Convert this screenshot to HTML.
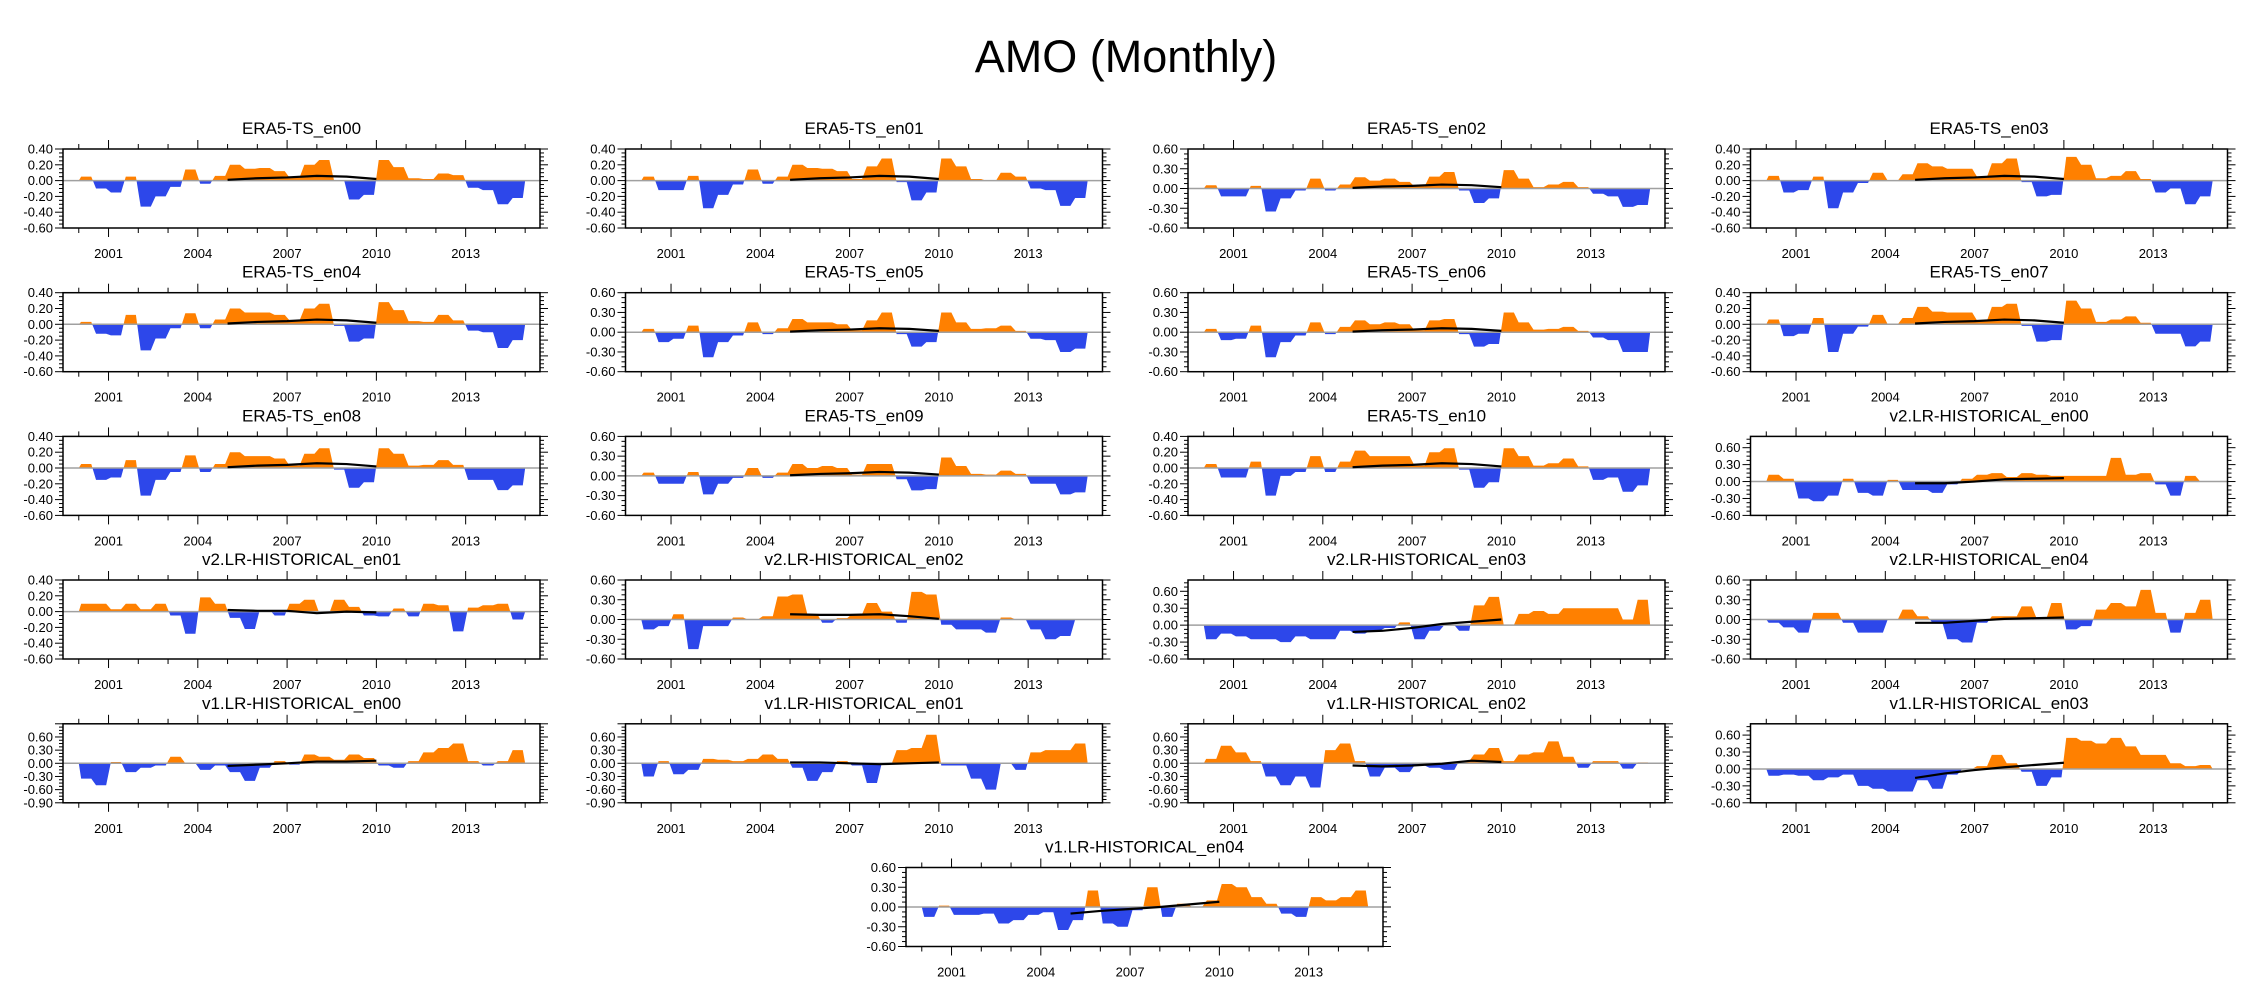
<!DOCTYPE html>
<html><head><meta charset="utf-8">
<style>
html,body{margin:0;padding:0;background:#fff;}
svg{display:block;font-family:"Liberation Sans",Arial,sans-serif;}
</style></head>
<body>
<svg id="chart" width="2253" height="1004" viewBox="0 0 2253 1004" xmlns="http://www.w3.org/2000/svg">
<text x="1126" y="72" font-size="45" text-anchor="middle">AMO (Monthly)</text>
</svg>
<script>
// half-year anomaly values, 2000.0 .. 2015.0 (30 per panel)
const era00 = [0.05,-0.1,-0.15,0.05,-0.33,-0.2,-0.08,0.14,-0.04,0.06,0.2,0.15,0.16,0.12,0.04,0.2,0.26,0.0,-0.24,-0.18,0.26,0.17,0.03,0.02,0.09,0.07,-0.09,-0.12,-0.3,-0.22];
const era01 = [0.05,-0.12,-0.12,0.06,-0.35,-0.18,-0.05,0.14,-0.04,0.05,0.2,0.16,0.15,0.12,0.02,0.18,0.28,-0.02,-0.25,-0.15,0.28,0.18,0.02,0.0,0.1,0.05,-0.1,-0.12,-0.32,-0.22];
const era02 = [0.05,-0.12,-0.12,0.04,-0.35,-0.15,-0.03,0.15,-0.03,0.06,0.17,0.12,0.15,0.1,0.03,0.18,0.25,-0.03,-0.22,-0.15,0.28,0.15,0.02,0.06,0.1,0.02,-0.08,-0.12,-0.28,-0.25];
const era03 = [0.06,-0.15,-0.12,0.05,-0.35,-0.15,-0.03,0.1,0.0,0.08,0.22,0.18,0.15,0.15,0.05,0.22,0.28,-0.02,-0.2,-0.18,0.3,0.2,0.03,0.06,0.12,0.02,-0.15,-0.1,-0.3,-0.2];
const era04 = [0.03,-0.12,-0.14,0.12,-0.33,-0.18,-0.05,0.14,-0.05,0.06,0.2,0.15,0.15,0.12,0.05,0.2,0.26,-0.02,-0.22,-0.18,0.28,0.18,0.04,0.03,0.12,0.05,-0.08,-0.1,-0.3,-0.2];
const era05 = [0.05,-0.15,-0.1,0.1,-0.38,-0.15,-0.05,0.15,-0.03,0.06,0.2,0.15,0.15,0.12,0.03,0.18,0.3,-0.03,-0.22,-0.15,0.3,0.15,0.05,0.06,0.1,0.02,-0.1,-0.12,-0.3,-0.25];
const era06 = [0.05,-0.12,-0.1,0.1,-0.38,-0.15,-0.05,0.15,-0.03,0.08,0.18,0.12,0.15,0.12,0.03,0.18,0.2,-0.03,-0.22,-0.18,0.3,0.15,0.04,0.05,0.08,0.02,-0.08,-0.12,-0.3,-0.3];
const era07 = [0.06,-0.15,-0.12,0.08,-0.35,-0.12,-0.03,0.12,0.0,0.08,0.22,0.16,0.15,0.15,0.05,0.22,0.26,-0.02,-0.22,-0.2,0.3,0.2,0.03,0.06,0.1,0.02,-0.12,-0.12,-0.28,-0.22];
const era08 = [0.05,-0.15,-0.12,0.1,-0.35,-0.15,-0.05,0.16,-0.05,0.05,0.2,0.15,0.15,0.12,0.03,0.18,0.25,-0.02,-0.25,-0.18,0.25,0.18,0.03,0.04,0.1,0.04,-0.15,-0.15,-0.28,-0.22];
const era09 = [0.05,-0.12,-0.12,0.06,-0.28,-0.12,-0.03,0.12,-0.03,0.05,0.18,0.12,0.15,0.12,0.02,0.18,0.18,-0.05,-0.22,-0.2,0.28,0.15,0.03,0.02,0.08,0.03,-0.12,-0.12,-0.28,-0.25];
const era10 = [0.05,-0.12,-0.12,0.08,-0.35,-0.1,-0.05,0.15,-0.05,0.08,0.22,0.15,0.15,0.15,0.03,0.2,0.25,-0.02,-0.25,-0.18,0.25,0.15,0.03,0.06,0.12,0.02,-0.15,-0.12,-0.3,-0.22];
const v2en00 = [0.12,0.05,-0.3,-0.35,-0.25,0.05,-0.2,-0.25,0.03,-0.15,-0.15,-0.2,-0.05,0.05,0.12,0.15,0.08,0.15,0.12,0.1,0.1,0.1,0.1,0.42,0.12,0.15,-0.05,-0.25,0.1,0.0];
const v2en01 = [0.1,0.1,0.03,0.1,0.03,0.1,-0.05,-0.28,0.18,0.1,-0.08,-0.22,0.02,-0.05,0.1,0.15,-0.02,0.15,0.06,-0.05,-0.06,0.04,-0.06,0.1,0.08,-0.25,0.05,0.08,0.1,-0.1];
const v2en02 = [-0.15,-0.1,0.08,-0.45,-0.1,-0.1,0.03,0.0,0.05,0.35,0.38,0.08,-0.05,0.02,0.08,0.25,0.12,-0.05,0.42,0.38,-0.08,-0.15,-0.15,-0.2,0.03,0.0,-0.15,-0.3,-0.25,0.0];
const v2en03 = [-0.25,-0.15,-0.2,-0.25,-0.25,-0.3,-0.2,-0.25,-0.25,-0.1,-0.15,-0.1,-0.05,0.05,-0.25,-0.1,0.0,-0.1,0.35,0.5,0.0,0.2,0.25,0.2,0.3,0.3,0.3,0.3,0.1,0.45];
const v2en04 = [-0.05,-0.12,-0.2,0.1,0.1,-0.05,-0.2,-0.2,0.0,0.15,0.05,-0.05,-0.3,-0.35,-0.05,0.05,0.05,0.2,0.02,0.25,-0.15,-0.1,0.15,0.25,0.2,0.45,0.1,-0.2,0.1,0.3];
const v1en00 = [-0.35,-0.5,0.03,-0.2,-0.1,-0.05,0.15,0.0,-0.15,-0.05,-0.2,-0.4,-0.1,0.05,-0.03,0.2,0.15,0.08,0.2,0.12,-0.05,-0.1,0.05,0.25,0.35,0.45,0.05,-0.05,0.05,0.3];
const v1en01 = [-0.3,0.05,-0.25,-0.15,0.1,0.08,0.05,0.1,0.2,0.1,-0.1,-0.4,-0.2,0.05,-0.05,-0.45,0.0,0.3,0.35,0.65,-0.05,-0.05,-0.35,-0.6,0.0,-0.15,0.25,0.3,0.3,0.45];
const v1en02 = [0.1,0.4,0.25,0.05,-0.3,-0.5,-0.3,-0.55,0.3,0.45,0.05,-0.3,-0.1,-0.2,-0.05,-0.1,-0.15,0.05,0.2,0.35,0.05,0.2,0.25,0.5,0.15,-0.1,0.05,0.05,-0.12,0.02];
const v1en03 = [-0.12,-0.1,-0.12,-0.2,-0.15,-0.1,-0.3,-0.35,-0.4,-0.4,-0.2,-0.35,-0.1,0.0,0.05,0.25,0.1,-0.05,-0.3,-0.15,0.55,0.5,0.45,0.55,0.4,0.25,0.25,0.1,0.05,0.07];
const v1en04 = [-0.15,0.02,-0.12,-0.12,-0.1,-0.25,-0.2,-0.12,-0.08,-0.35,-0.2,0.25,-0.25,-0.3,-0.05,0.3,-0.15,0.05,0.0,0.1,0.35,0.3,0.15,0.05,-0.1,-0.15,0.15,0.1,0.15,0.25];

// trend values at 2005..2010
const trendYears = [2005,2006,2007,2008,2009,2010];
const trendEra = [0.01,0.03,0.04,0.06,0.05,0.02];
const trendV2en00 = [-0.03,-0.03,0.0,0.04,0.05,0.06];
const trendV2en01 = [0.02,0.01,0.01,-0.02,0.0,-0.01];
const trendV2en02 = [0.08,0.07,0.07,0.08,0.05,0.01];
const trendV2en03 = [-0.12,-0.1,-0.05,0.02,0.06,0.1];
const trendV2en04 = [-0.05,-0.05,-0.02,0.01,0.02,0.03];
const trendV1en00 = [-0.06,-0.03,0.0,0.04,0.04,0.06];
const trendV1en01 = [0.02,0.02,0.0,-0.02,0.0,0.02];
const trendV1en02 = [-0.05,-0.07,-0.05,-0.01,0.06,0.03];
const trendV1en03 = [-0.16,-0.08,-0.02,0.03,0.07,0.11];
const trendV1en04 = [-0.1,-0.06,-0.03,0.0,0.04,0.08];

const yearTicks = [2001,2004,2007,2010,2013];
const titles = ["ERA5-TS_en00","ERA5-TS_en01","ERA5-TS_en02","ERA5-TS_en03","ERA5-TS_en04","ERA5-TS_en05","ERA5-TS_en06","ERA5-TS_en07","ERA5-TS_en08","ERA5-TS_en09","ERA5-TS_en10","v2.LR-HISTORICAL_en00","v2.LR-HISTORICAL_en01","v2.LR-HISTORICAL_en02","v2.LR-HISTORICAL_en03","v2.LR-HISTORICAL_en04","v1.LR-HISTORICAL_en00","v1.LR-HISTORICAL_en01","v1.LR-HISTORICAL_en02","v1.LR-HISTORICAL_en03","v1.LR-HISTORICAL_en04"];
const seriesList = [era00,era01,era02,era03,era04,era05,era06,era07,era08,era09,era10,v2en00,v2en01,v2en02,v2en03,v2en04,v1en00,v1en01,v1en02,v1en03,v1en04];
const trendList = [trendEra,trendEra,trendEra,trendEra,trendEra,trendEra,trendEra,trendEra,trendEra,trendEra,trendEra,trendV2en00,trendV2en01,trendV2en02,trendV2en03,trendV2en04,trendV1en00,trendV1en01,trendV1en02,trendV1en03,trendV1en04];
const axisType = ["A","A","B","A","A","B","B","A","A","B","A","C","A","B","C","B","D","D","D","C","B"];
const axisTop = {A:0.4,B:0.6,C:0.8,D:0.9};
const axisBottom = {A:-0.6,B:-0.6,C:-0.6,D:-0.9};
const axisStep = {A:0.2,B:0.3,C:0.3,D:0.3};
const axisMaxLabel = {A:0.4,B:0.6,C:0.6,D:0.6};

const svg = document.getElementById('chart');
const NS = 'http://www.w3.org/2000/svg';
function mk(tag, attrs, parent){
  const e = document.createElementNS(NS, tag);
  for (const k in attrs) e.setAttribute(k, attrs[k]);
  (parent||svg).appendChild(e);
  return e;
}
const colLeft = [63,625.5,1188,1750.5];
const rowTop = [149,292.7,436.4,580,723.8,867.5];
const W = 477, H = 79, PX_PER_YEAR = 29.76, T0 = 1999.47;

seriesList.forEach((data, p) => {
  let left, top;
  if (p < 20) { left = colLeft[p % 4]; top = rowTop[Math.floor(p / 4)]; }
  else { left = 906; top = rowTop[5]; }
  const t = axisType[p], yTop = axisTop[t], yBot = axisBottom[t], step = axisStep[t];
  const xs = yr => left + (yr - T0) * PX_PER_YEAR;
  const ys = v => top + (yTop - v) / (yTop - yBot) * H;
  const g = mk('g', {});
  
  

  const title = mk('text', {x: left + W/2, y: top - 15, 'font-size': 17, 'text-anchor': 'middle'}, g);
  title.textContent = titles[p];
  
  

  const y0 = ys(0);
  let pts = xs(2000) + ',' + y0 + ' ';
  data.forEach((v, i) => {
    const a = 2000 + i * 0.5;
    pts += xs(a + 0.08) + ',' + ys(v) + ' ' + xs(a + 0.42) + ',' + ys(v) + ' ';
  });
  pts += xs(2015) + ',' + y0;
  const idA = 'ca' + p, idB = 'cb' + p;
  const defs = mk('defs', {}, g);
  const cA = mk('clipPath', {id: idA}, defs); mk('rect', {x: left, y: top, width: W, height: y0 - top}, cA);
  const cB = mk('clipPath', {id: idB}, defs); mk('rect', {x: left, y: y0, width: W, height: top + H - y0}, cB);
  const pos = mk('polygon', {points: pts, fill: '#ff8000', 'clip-path': 'url(#' + idA + ')'}, g);
  
  
  const neg = mk('polygon', {points: pts, fill: '#2d47ea', 'clip-path': 'url(#' + idB + ')'}, g);
  
  
  mk('line', {x1: left, x2: left + W, y1: y0, y2: y0, stroke: '#a0a0a0', 'stroke-width': 1.5}, g);

  const tr = trendList[p];
  let d = '';
  trendYears.forEach((yr, i) => { d += (i ? 'L' : 'M') + xs(yr) + ',' + ys(tr[i]); });
  const tl = mk('path', {d: d, fill: 'none', stroke: '#000', 'stroke-width': 2.2, 'stroke-linejoin': 'round'}, g);
  
  

  mk('rect', {x: left, y: top, width: W, height: H, fill: 'none', stroke: '#000', 'stroke-width': 1.5}, g);

  const nMajor = Math.round((yTop - yBot) / step + 1e-6);
  for (let k = 0; k <= nMajor * 4; k++) {
    const v = yBot + k * step / 4;
    if (v > yTop + 1e-6) break;
    const yy = ys(v), major = k % 4 === 0;
    const len = major ? 8 : 4;
    mk('line', {x1: left - len, x2: left, y1: yy, y2: yy, stroke: '#000', 'stroke-width': 1}, g);
    mk('line', {x1: left + W, x2: left + W + len, y1: yy, y2: yy, stroke: '#000', 'stroke-width': 1}, g);
    if (major && v <= axisMaxLabel[t] + 1e-6) {
      const lb = mk('text', {x: left - 10, y: yy + 4.5, 'font-size': 13, 'text-anchor': 'end'}, g);
      lb.textContent = v.toFixed(2).replace('-0.00', '0.00');
      
      
    }
  }
  for (let yr = 2000; yr <= 2015; yr++) {
    const xx = xs(yr), major = yearTicks.includes(yr);
    const len = major ? 9 : 5;
    mk('line', {x1: xx, x2: xx, y1: top + H, y2: top + H + len, stroke: '#000', 'stroke-width': 1}, g);
    mk('line', {x1: xx, x2: xx, y1: top - len, y2: top, stroke: '#000', 'stroke-width': 1}, g);
  }
  yearTicks.forEach(yr => {
    const lb = mk('text', {x: xs(yr), y: top + H + 30, 'font-size': 13, 'text-anchor': 'middle'}, g);
    lb.textContent = yr;
    
    
  });
});
</script>
</body></html>
